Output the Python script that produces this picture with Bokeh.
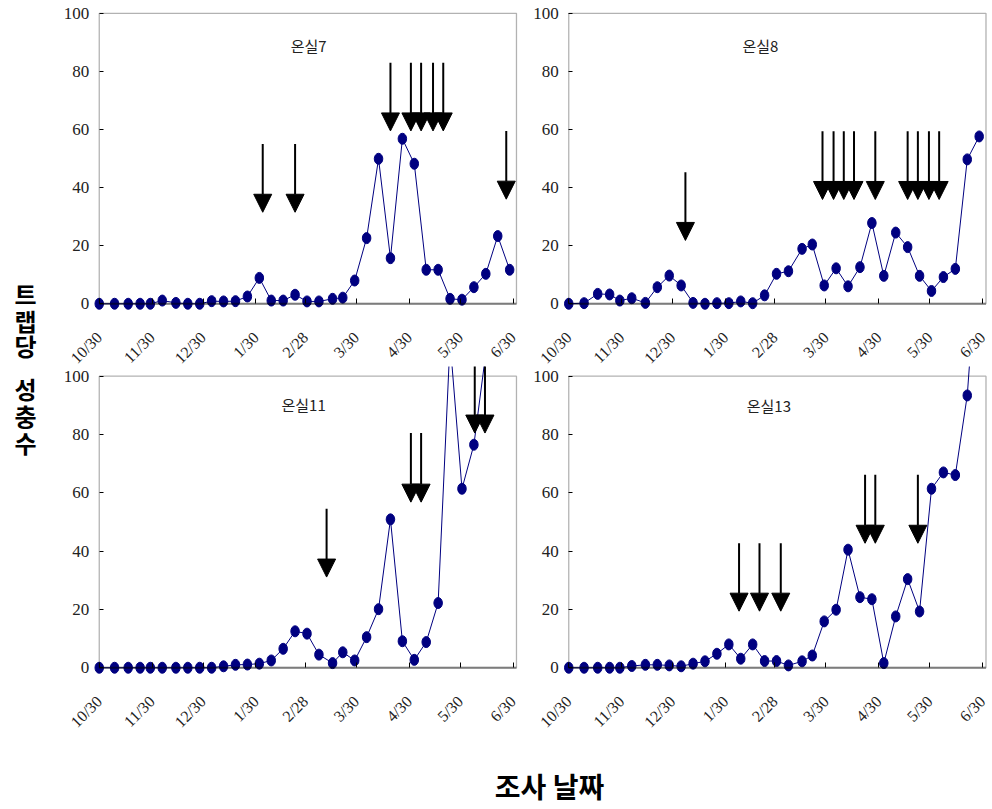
import math
from bokeh.plotting import figure
from bokeh.models import Range1d, FixedTicker, Arrow, NormalHead, BoxAnnotation, ColumnDataSource
from bokeh.layouts import row, column
from bokeh.core.properties import value
from bokeh.embed import file_html
from bokeh.resources import INLINE

# ---------------- data ----------------
# survey days, counted from 10/30
sample_days = [0, 9, 17, 24, 30, 37, 45, 52, 59, 66, 73, 80, 87, 94, 101, 108, 115, 122,
               129, 137, 143, 150, 157, 164, 171, 178, 185, 192, 199, 206, 213, 220, 227, 234, 241]
month_ticks = [0, 31, 61, 92, 121, 151, 182, 212, 243]
month_labels = ["10/30", "11/30", "12/30", "1/30", "2/28", "3/30", "4/30", "5/30", "6/30"]
y_ticks = [0, 20, 40, 60, 80, 100]

house_names = ["온실7", "온실8", "온실11", "온실13"]

catch_7 = [0, 0, 0, 0, 0, 1.1, 0.3, 0, 0, 0.9, 0.8, 0.9, 2.5, 8.9, 1.1, 1.1, 3.1, 0.8, 0.8,
           1.7, 2.1, 8.0, 22.6, 49.9, 15.7, 56.8, 48.2, 11.7, 11.7, 1.7, 1.4, 5.7, 10.3, 23.3, 11.7]
catch_8 = [0, 0.2, 3.4, 3.2, 1.1, 1.9, 0.3, 5.7, 9.7, 6.3, 0.3, 0, 0.2, 0.2, 0.8, 0.2, 2.9,
           10.3, 11.2, 18.9, 20.4, 6.3, 12.2, 6.0, 12.6, 27.8, 9.6, 24.5, 19.5, 9.6, 4.4, 9.2,
           12.0, 49.7, 57.6]
catch_11 = [0, 0, 0, 0, 0, 0, 0, 0, 0, 0, 0.5, 1.0, 1.1, 1.4, 2.5, 6.5, 12.5, 11.7, 4.5, 1.6,
            5.3, 2.5, 10.5, 20.1, 50.9, 9.1, 2.7, 8.8, 22.2, 112, 61.4, 76.5, 108]
catch_13 = [0, 0, 0, 0, 0, 0.6, 1.0, 1.0, 0.8, 0.5, 1.4, 2.2, 4.8, 8.0, 3.1, 8.0, 2.3, 2.3,
            0.8, 2.2, 4.2, 15.9, 19.9, 40.5, 24.2, 23.5, 1.6, 17.6, 30.4, 19.3, 61.4, 67.0,
            66.1, 93.4, 150]

# spray arrows: day, arrow start value, arrow tip value
spray_7_days = [96, 115, 171, 183, 189, 196, 202, 239]
spray_7_from = [55, 55, 83, 83, 83, 83, 83, 59.5]
spray_7_to = [31.5, 31.5, 59.5, 59.5, 59.5, 59.5, 59.5, 36]

spray_8_days = [68.5, 149, 155.5, 161.5, 167.5, 180, 199, 205, 211.5, 217.5]
spray_8_from = [45.3, 59.4, 59.4, 59.4, 59.4, 59.4, 59.4, 59.4, 59.4, 59.4]
spray_8_to = [21.8, 35.9, 35.9, 35.9, 35.9, 35.9, 35.9, 35.9, 35.9, 35.9]

spray_11_days = [133.5, 183, 189, 220.5, 226.5]
spray_11_from = [54.5, 80.5, 80.5, 106, 106]
spray_11_to = [31.1, 56.8, 56.8, 80.5, 80.5]

spray_13_days = [100, 112, 124.5, 174, 180, 205]
spray_13_from = [42.7, 42.7, 42.7, 66.2, 66.2, 66.2]
spray_13_to = [19.4, 19.4, 19.4, 42.7, 42.7, 42.7]

y_title_chars = ["트", "랩", "당", "성", "충", "수"]
x_title = "조사 날짜"

NAVY = "#000080"
SERIF = "Liberation Serif"
KR = "Noto Sans CJK KR"
X_END = 245  # right edge of the plotted box (days)


def make_panel(name, values, s_days, s_from, s_to, title_xy, xr, yr, fw, fh):
    p = figure(frame_width=fw, frame_height=fh,
               x_range=Range1d(*xr), y_range=Range1d(*yr),
               output_backend="svg", toolbar_location=None, min_border=0)
    p.outline_line_color = None
    p.grid.visible = False
    p.background_fill_color = "white"
    p.border_fill_color = "white"

    xa = p.xaxis[0]
    xa.fixed_location = 0
    xa.ticker = FixedTicker(ticks=month_ticks)
    xa.major_label_overrides = {t: l for t, l in zip(month_ticks, month_labels)}
    xa.major_label_orientation = math.pi / 4
    xa.major_tick_in = 5
    xa.major_tick_out = 0
    xa.minor_tick_in = 0
    xa.minor_tick_out = 0
    xa.axis_line_color = None
    xa.major_tick_line_color = "black"
    xa.major_tick_line_width = 1
    xa.major_label_standoff = 31
    xa.major_label_text_font = SERIF
    xa.major_label_text_font_size = "16px"
    xa.major_label_text_color = "#222222"

    ya = p.yaxis[0]
    ya.fixed_location = 0
    ya.ticker = FixedTicker(ticks=y_ticks)
    ya.major_tick_in = 4
    ya.major_tick_out = 0
    ya.minor_tick_in = 0
    ya.minor_tick_out = 0
    ya.axis_line_color = None
    ya.major_tick_line_color = "black"
    ya.major_label_standoff = 10
    ya.major_label_text_font = SERIF
    ya.major_label_text_font_size = "17px"
    ya.major_label_text_color = "#222222"

    # plot box and the heavier baseline
    p.add_layout(BoxAnnotation(left=0, right=X_END, bottom=0, top=100,
                               fill_color=None, line_color="black", line_width=1.3))
    p.add_layout(BoxAnnotation(left=0, right=X_END, bottom=0, top=0,
                               fill_color=None, line_color="black", line_width=2.4))

    src = ColumnDataSource(dict(x=sample_days[:len(values)], y=values))
    p.line("x", "y", source=src, line_color=NAVY, line_width=1)
    p.ellipse("x", "y", source=src, width=8.5, height=11,
              width_units="screen", height_units="screen",
              fill_color=NAVY, line_color=NAVY)

    for d, a, b in zip(s_days, s_from, s_to):
        p.add_layout(Arrow(x_start=d, y_start=a, x_end=d, y_end=b,
                           line_color="black", line_width=2,
                           end=NormalHead(size=18, fill_color="black",
                                          line_color="black", line_width=1)))

    p.text(x=[title_xy[0]], y=[title_xy[1]], text=[name],
           text_font=value(KR), text_font_size="15px", text_color="#222222",
           text_align="center", text_baseline="middle")
    return p


XR_LEFT = (-29.8, 250.3)
XR_RIGHT = (-25.4, 247.65)
YR_TOP = (-21.6, 104.4)
YR_BOTTOM = (-27.7, 103.33)

f1 = make_panel(house_names[0], catch_7, spray_7_days, spray_7_from, spray_7_to,
                (123, 89), XR_LEFT, YR_TOP, 477, 366)
f2 = make_panel(house_names[1], catch_8, spray_8_days, spray_8_from, spray_8_to,
                (112.5, 89), XR_RIGHT, YR_TOP, 465, 366)
f3 = make_panel(house_names[2], catch_11, spray_11_days, spray_11_from, spray_11_to,
                (120, 90.3), XR_LEFT, YR_BOTTOM, 477, 382)
f4 = make_panel(house_names[3], catch_13, spray_13_days, spray_13_from, spray_13_to,
                (117.5, 90), XR_RIGHT, YR_BOTTOM, 465, 382)

# vertical y-axis title
yfig = figure(width=48, height=748, x_range=Range1d(0, 48), y_range=Range1d(748, 0),
              output_backend="svg", toolbar_location=None, min_border=0,
              x_axis_location=None, y_axis_location=None)
yfig.outline_line_color = None
yfig.grid.visible = False
yfig.text(x=[25] * 6, y=[293, 320, 345, 388, 415, 442], text=y_title_chars,
          text_font=value(KR), text_font_size="24px", text_font_style="bold",
          text_color="black", text_align="center", text_baseline="middle")

# x-axis title
xfig = figure(width=990, height=60, x_range=Range1d(0, 990), y_range=Range1d(60, 0),
              output_backend="svg", toolbar_location=None, min_border=0,
              x_axis_location=None, y_axis_location=None)
xfig.outline_line_color = None
xfig.grid.visible = False
xfig.text(x=[549], y=[37], text=[x_title],
          text_font=value(KR), text_font_size="28px", text_font_style="bold",
          text_color="black", text_align="center", text_baseline="middle")

layout = column(row(yfig, column(row(f1, f2), row(f3, f4))), xfig)

open("out.html", "w").write(file_html(layout, INLINE))
